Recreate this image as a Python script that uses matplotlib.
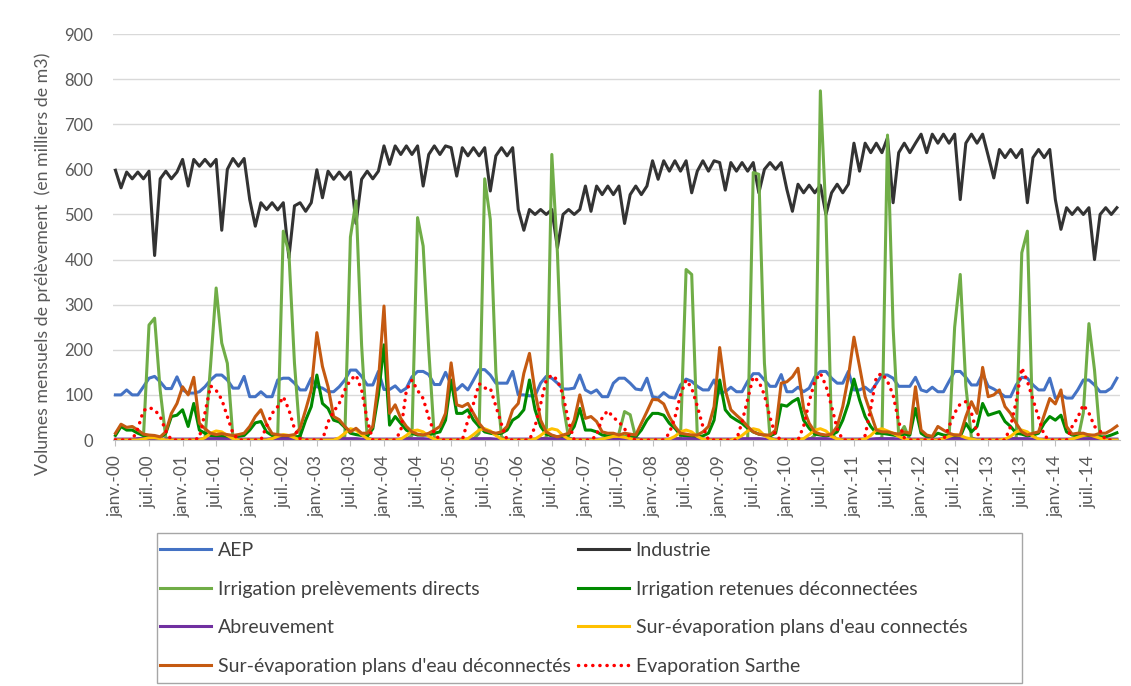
import numpy as np
import matplotlib
matplotlib.use("Agg")
from matplotlib import pyplot as plt
from matplotlib.patches import Rectangle

# monthly values, janv. 2000 -> dec. 2014 (one row per year)
aep = [100, 100, 111, 100, 100, 118, 137, 141, 129, 114, 114, 140,
       111, 104, 104, 107, 118, 133, 144, 144, 133, 115, 115, 141,
       96, 96, 107, 96, 96, 133, 137, 137, 126, 111, 111, 137,
       118, 115, 107, 107, 118, 133, 155, 155, 141, 122, 122, 152,
       112, 112, 120, 107, 115, 140, 152, 152, 145, 123, 123, 150,
       123, 111, 123, 111, 133, 156, 156, 144, 126, 126, 126, 152,
       100, 100, 98, 98, 126, 141, 137, 126, 113, 113, 115, 144,
       111, 104, 111, 96, 96, 126, 137, 137, 126, 113, 111, 137,
       96, 93, 105, 95, 93, 122, 135, 130, 119, 111, 111, 133,
       104, 107, 117, 107, 107, 130, 147, 147, 133, 119, 119, 145,
       107, 107, 117, 107, 115, 140, 152, 152, 137, 126, 126, 152,
       111, 111, 117, 107, 125, 144, 144, 137, 119, 119, 119, 139,
       111, 107, 117, 107, 107, 130, 152, 152, 139, 122, 122, 147,
       119, 113, 105, 96, 96, 122, 139, 137, 122, 111, 111, 137,
       93, 100, 93, 93, 111, 133, 133, 122, 107, 107, 115, 137]

industrie = [598, 559, 594, 579, 594, 579, 596, 409, 579, 596, 579, 594,
             622, 563, 622, 607, 622, 607, 622, 465, 600, 624, 607, 624,
             533, 474, 526, 511, 526, 510, 526, 404, 519, 526, 507, 526,
             599, 537, 596, 578, 594, 578, 594, 480, 578, 596, 579, 596,
             652, 611, 652, 633, 652, 633, 652, 563, 633, 652, 633, 652,
             648, 585, 648, 630, 648, 630, 648, 552, 630, 648, 630, 648,
             511, 465, 511, 500, 511, 500, 511, 426, 500, 511, 500, 511,
             563, 507, 563, 544, 563, 544, 563, 480, 544, 563, 544, 563,
             619, 578, 619, 596, 619, 596, 619, 548, 596, 619, 596, 619,
             615, 554, 615, 596, 615, 596, 615, 548, 600, 615, 600, 615,
             556, 507, 567, 548, 565, 548, 565, 500, 548, 567, 548, 567,
             658, 596, 658, 637, 658, 637, 670, 526, 637, 658, 637, 658,
             678, 637, 678, 658, 678, 658, 678, 533, 658, 678, 658, 678,
             630, 581, 644, 626, 644, 626, 644, 526, 626, 644, 626, 644,
             533, 467, 515, 500, 515, 500, 515, 400, 500, 515, 500, 515]

irrig_directs = [0, 0, 0, 0, 2, 5, 255, 270, 110, 5, 0, 0,
                 0, 0, 0, 0, 2, 165, 337, 215, 170, 5, 0, 0,
                 0, 0, 0, 0, 2, 8, 463, 415, 170, 5, 0, 0,
                 0, 0, 0, 0, 2, 8, 450, 530, 210, 5, 0, 0,
                 0, 0, 0, 0, 2, 10, 493, 430, 200, 5, 0, 0,
                 0, 0, 0, 0, 2, 15, 579, 489, 150, 7, 0, 0,
                 0, 0, 0, 0, 2, 5, 633, 415, 80, 5, 0, 0,
                 0, 0, 0, 0, 0, 0, 15, 63, 56, 5, 0, 0,
                 0, 0, 0, 0, 0, 5, 378, 367, 10, 0, 0, 0,
                 0, 0, 0, 0, 0, 0, 593, 589, 170, 5, 0, 0,
                 0, 0, 0, 0, 0, 10, 774, 496, 15, 0, 0, 0,
                 0, 0, 0, 0, 0, 5, 676, 250, 10, 30, 0, 0,
                 0, 0, 0, 0, 0, 5, 250, 367, 120, 5, 0, 0,
                 0, 0, 0, 0, 0, 5, 415, 463, 10, 0, 0, 0,
                 0, 0, 0, 0, 0, 60, 258, 155, 5, 0, 0, 0]

irrig_retenues = [10, 30, 22, 22, 15, 10, 7, 7, 5, 15, 52, 55,
                  67, 30, 81, 22, 15, 10, 8, 8, 7, 7, 8, 10,
                  22, 38, 41, 18, 10, 8, 7, 7, 7, 8, 44, 74,
                  144, 81, 70, 44, 40, 28, 15, 12, 10, 8, 25, 100,
                  211, 33, 52, 37, 22, 15, 11, 11, 11, 15, 18, 44,
                  133, 59, 59, 67, 44, 30, 18, 15, 13, 15, 22, 44,
                  52, 67, 133, 67, 30, 13, 9, 7, 7, 11, 30, 70,
                  22, 22, 18, 11, 9, 11, 7, 7, 7, 7, 22, 44,
                  59, 59, 55, 37, 26, 11, 9, 7, 7, 9, 15, 44,
                  133, 67, 52, 44, 37, 26, 18, 13, 11, 9, 15, 78,
                  75, 85, 92, 44, 26, 13, 11, 9, 11, 18, 44, 81,
                  135, 89, 52, 30, 15, 15, 13, 11, 9, 13, 11, 70,
                  15, 7, 6, 15, 11, 9, 7, 7, 37, 18, 30, 81,
                  55, 59, 63, 41, 30, 15, 13, 9, 11, 15, 37, 52,
                  44, 55, 18, 11, 9, 11, 9, 7, 7, 7, 11, 16]

abreuvement = [2, 2, 2, 2, 3, 3, 3, 3, 2, 2, 2, 2,
               2, 2, 2, 2, 3, 3, 3, 3, 2, 2, 2, 2,
               2, 2, 2, 2, 3, 3, 3, 3, 2, 2, 2, 2,
               2, 2, 2, 2, 3, 3, 3, 3, 2, 2, 2, 2,
               2, 2, 2, 2, 3, 3, 3, 3, 2, 2, 2, 2,
               2, 2, 2, 2, 3, 3, 3, 3, 2, 2, 2, 2,
               2, 2, 2, 2, 3, 3, 3, 3, 2, 2, 2, 2,
               2, 2, 2, 2, 3, 3, 3, 3, 2, 2, 2, 2,
               2, 2, 2, 2, 3, 3, 3, 3, 2, 2, 2, 2,
               2, 2, 2, 2, 3, 3, 3, 3, 2, 2, 2, 2,
               2, 2, 2, 2, 3, 3, 3, 3, 2, 2, 2, 2,
               2, 2, 2, 2, 3, 3, 3, 3, 2, 2, 2, 2,
               2, 2, 2, 2, 3, 3, 3, 3, 2, 2, 2, 2,
               2, 2, 2, 2, 3, 3, 3, 3, 2, 2, 2, 2,
               2, 2, 2, 2, 3, 3, 3, 3, 2, 2, 2, 2]

evap_connectes = [0, 0, 0, 0, 0, 2, 5, 5, 3, 0, 0, 0,
                  0, 0, 0, 0, 5, 15, 20, 18, 10, 3, 0, 0,
                  0, 0, 0, 0, 3, 8, 12, 10, 5, 0, 0, 0,
                  0, 0, 0, 0, 5, 15, 25, 22, 12, 3, 0, 0,
                  0, 0, 0, 2, 10, 20, 22, 18, 8, 2, 0, 0,
                  0, 0, 0, 3, 12, 22, 25, 20, 10, 2, 0, 0,
                  0, 0, 0, 2, 10, 20, 25, 22, 10, 2, 0, 0,
                  0, 0, 0, 2, 5, 8, 8, 6, 3, 0, 0, 0,
                  0, 0, 0, 2, 8, 18, 22, 18, 8, 2, 0, 0,
                  0, 0, 0, 3, 10, 20, 25, 22, 10, 3, 0, 0,
                  0, 0, 0, 3, 12, 22, 25, 20, 8, 2, 0, 0,
                  0, 0, 2, 10, 22, 25, 20, 15, 8, 2, 0, 0,
                  0, 0, 0, 0, 3, 8, 12, 10, 5, 2, 0, 0,
                  0, 0, 0, 2, 8, 18, 22, 18, 8, 2, 0, 0,
                  0, 0, 0, 2, 6, 10, 12, 8, 4, 0, 0, 0]

evap_deconnectes = [15, 35, 28, 30, 22, 13, 11, 10, 7, 18, 59, 81,
                    118, 100, 139, 37, 25, 15, 12, 14, 12, 10, 12, 15,
                    30, 52, 67, 35, 14, 12, 10, 10, 12, 26, 67, 111,
                    238, 163, 118, 52, 45, 30, 18, 26, 15, 15, 30, 130,
                    297, 59, 78, 48, 30, 18, 13, 11, 15, 22, 30, 59,
                    171, 78, 74, 81, 59, 37, 22, 18, 15, 18, 30, 67,
                    81, 148, 192, 107, 44, 18, 11, 7, 11, 15, 44, 100,
                    48, 52, 41, 18, 15, 15, 11, 15, 13, 11, 37, 63,
                    90, 89, 80, 52, 30, 15, 13, 11, 11, 18, 30, 74,
                    205, 111, 67, 55, 44, 30, 18, 13, 11, 11, 22, 126,
                    129, 140, 159, 70, 37, 18, 13, 11, 13, 30, 74, 140,
                    228, 163, 96, 59, 22, 18, 18, 15, 13, 18, 15, 118,
                    22, 11, 8, 30, 22, 15, 11, 11, 52, 85, 59, 161,
                    96, 100, 111, 74, 59, 37, 18, 11, 15, 18, 55, 92,
                    80, 111, 30, 13, 15, 15, 11, 11, 15, 15, 22, 31]

evap_sarthe = [0, 0, 0, 0, 25, 65, 72, 67, 52, 20, 0, 0,
               0, 0, 0, 5, 60, 120, 110, 90, 52, 15, 0, 0,
               0, 0, 0, 30, 59, 74, 96, 67, 25, 3, 0, 0,
               0, 0, 40, 63, 81, 111, 133, 144, 111, 44, 0, 0,
               0, 0, 0, 20, 110, 133, 110, 92, 50, 15, 0, 0,
               0, 0, 0, 44, 81, 125, 115, 115, 75, 35, 0, 0,
               0, 0, 0, 30, 80, 133, 144, 133, 100, 40, 0, 0,
               0, 0, 10, 50, 65, 50, 40, 25, 5, 0, 0, 0,
               0, 0, 0, 15, 50, 100, 133, 115, 75, 30, 0, 0,
               0, 0, 0, 0, 40, 90, 140, 130, 100, 50, 10, 0,
               0, 0, 0, 30, 85, 130, 148, 120, 75, 25, 0, 0,
               0, 0, 10, 70, 140, 148, 130, 100, 40, 5, 0, 0,
               0, 0, 0, 0, 0, 30, 60, 80, 85, 60, 15, 0,
               0, 0, 0, 0, 30, 85, 160, 130, 90, 50, 10, 0,
               0, 0, 0, 30, 50, 78, 60, 30, 20, 0, 0, 0]

years = ["00", "01", "02", "03", "04", "05", "06", "07",
         "08", "09", "10", "11", "12", "13", "14"]
tick_labels = []
for yy in years:
    tick_labels += ["janv.-" + yy, "juil.-" + yy]

series = [
    ("AEP", aep, "#4472C4", "-"),
    ("Industrie", industrie, "#333333", "-"),
    ("Irrigation prelèvements directs", irrig_directs, "#70AD47", "-"),
    ("Irrigation retenues déconnectées", irrig_retenues, "#008A00", "-"),
    ("Abreuvement", abreuvement, "#7030A0", "-"),
    ("Sur-évaporation plans d'eau connectés", evap_connectes, "#FFC000", "-"),
    ("Sur-évaporation plans d'eau déconnectés", evap_deconnectes, "#C55A11", "-"),
    ("Evaporation Sarthe", evap_sarthe, "#FF0000", ":"),
]

plt.rcParams['font.family'] = ['Lato', 'DejaVu Sans']
grey = "#595959"
W, H = 1131, 686

fig = plt.figure(figsize=(W / 100, H / 100), dpi=100)
ax = fig.add_axes([0.0996, 0.3586, 0.8904, 0.5918])

x = np.arange(len(aep))
handles = {}
for name, vals, col, ls in series:
    if ls == ":":
        h, = ax.plot(x, vals, color=col, linewidth=2.5, linestyle=(0, (0.05, 2.0)),
                     dash_capstyle="round", label=name, zorder=3)
    else:
        h, = ax.plot(x, vals, color=col, linewidth=2.2, label=name,
                     solid_joinstyle="round", zorder=2)
    handles[name] = h

ax.set_ylim(0, 900)
ax.set_xlim(-0.5, len(aep) - 0.5)
ax.set_yticks(range(0, 901, 100))
ax.tick_params(axis="y", length=0, labelsize=12, labelcolor=grey, pad=14)
ax.set_xticks(np.arange(0, len(aep), 6))
ax.set_xticklabels(tick_labels, rotation=90, fontsize=12.4, color=grey)
ax.tick_params(axis="x", length=4, color="#BFBFBF", pad=7)
ax.grid(axis="y", color="#D9D9D9", linewidth=1)
ax.set_axisbelow(True)
for s in ["top", "right", "left"]:
    ax.spines[s].set_visible(False)
ax.spines["bottom"].set_color("#BFBFBF")
ax.set_ylabel("Volumes mensuels de prélèvement  (en milliers de m3)",
              fontsize=12.8, color=grey)
ax.yaxis.set_label_coords(-0.061, 0.433)

# legend laid out in two columns like the Excel one, frame drawn separately
order = ["AEP", "Irrigation prelèvements directs", "Abreuvement",
         "Sur-évaporation plans d'eau déconnectés",
         "Industrie", "Irrigation retenues déconnectées",
         "Sur-évaporation plans d'eau connectés", "Evaporation Sarthe"]
leg = fig.legend([handles[n] for n in order], order, ncol=2,
                 bbox_to_anchor=(160 / W, 1 - 542 / H), loc="upper left",
                 fontsize=14, handlelength=2.62, handletextpad=0.36,
                 columnspacing=0.35, labelspacing=1.11, borderpad=0,
                 borderaxespad=0, frameon=False)
for t in leg.get_texts():
    t.set_color("#404040")
fig.patches.append(Rectangle((157 / W, 1 - 683 / H), 865 / W, 150 / H,
                             transform=fig.transFigure, fill=False,
                             edgecolor="#A6A6A6", linewidth=1))

fig.savefig("out.png", dpi=100)
